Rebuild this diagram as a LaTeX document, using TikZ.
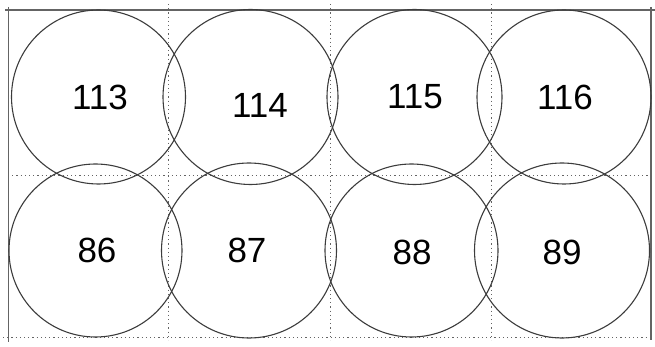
\documentclass[tikz,border=0pt]{standalone}
\usepackage{fontspec}
\setmainfont{Liberation Sans}
\usepackage{xcolor}
\definecolor{ringgray}{RGB}{60,60,60}
\definecolor{framegray}{RGB}{100,100,100}

\begin{document}
\begin{tikzpicture}[x=1pt,y=-1pt,
    ring/.style={draw=ringgray,line width=1.1pt},
    gridline/.style={draw=framegray,line width=0.9pt,dash pattern=on 1.2pt off 3pt},
    frameline/.style={draw=framegray,line width=1.3pt},
    cellnum/.style={font=\fontsize{35}{40}\selectfont,inner sep=0pt}]
    \useasboundingbox (0,0) rectangle (655,347);

    % Grid
    \draw[gridline] (8,175) -- (651,175);
    \draw[gridline] (3,337) -- (651,337);
    \draw[gridline] (168,4) -- (168,340);
    \draw[gridline] (330,4) -- (330,340);
    \draw[gridline] (491,4) -- (491,340);

    % Frame
    \draw[frameline] (5,10) -- (655,10);
    \draw[frameline] (8.5,7) -- (8.5,342);
    \draw[frameline] (651,7) -- (651,340);

    % Upper row
    \draw[ring] (98.5,97) circle (87);
    \draw[ring] (250.5,97) circle (87.5);
    \draw[ring] (414.5,97) circle (87.5);
    \draw[ring] (564,97) circle (87);
    \node[cellnum] (n113) at (100,97) {113};
    \node[cellnum] (n114) at (260,105) {114};
    \node[cellnum] (n115) at (415,97) {115};
    \node[cellnum] (n116) at (565,97) {116};

    % Lower row
    \draw[ring] (95.5,250.5) circle (86.5);
    \draw[ring] (249,250.5) circle (87.5);
    \draw[ring] (411.5,250.5) circle (86.5);
    \draw[ring] (562,250.5) circle (87.5);
    \node[cellnum] (n86) at (97,250) {86};
    \node[cellnum] (n87) at (247,250) {87};
    \node[cellnum] (n88) at (412,252) {88};
    \node[cellnum] (n89) at (562,252) {89};
\end{tikzpicture}
\end{document}
